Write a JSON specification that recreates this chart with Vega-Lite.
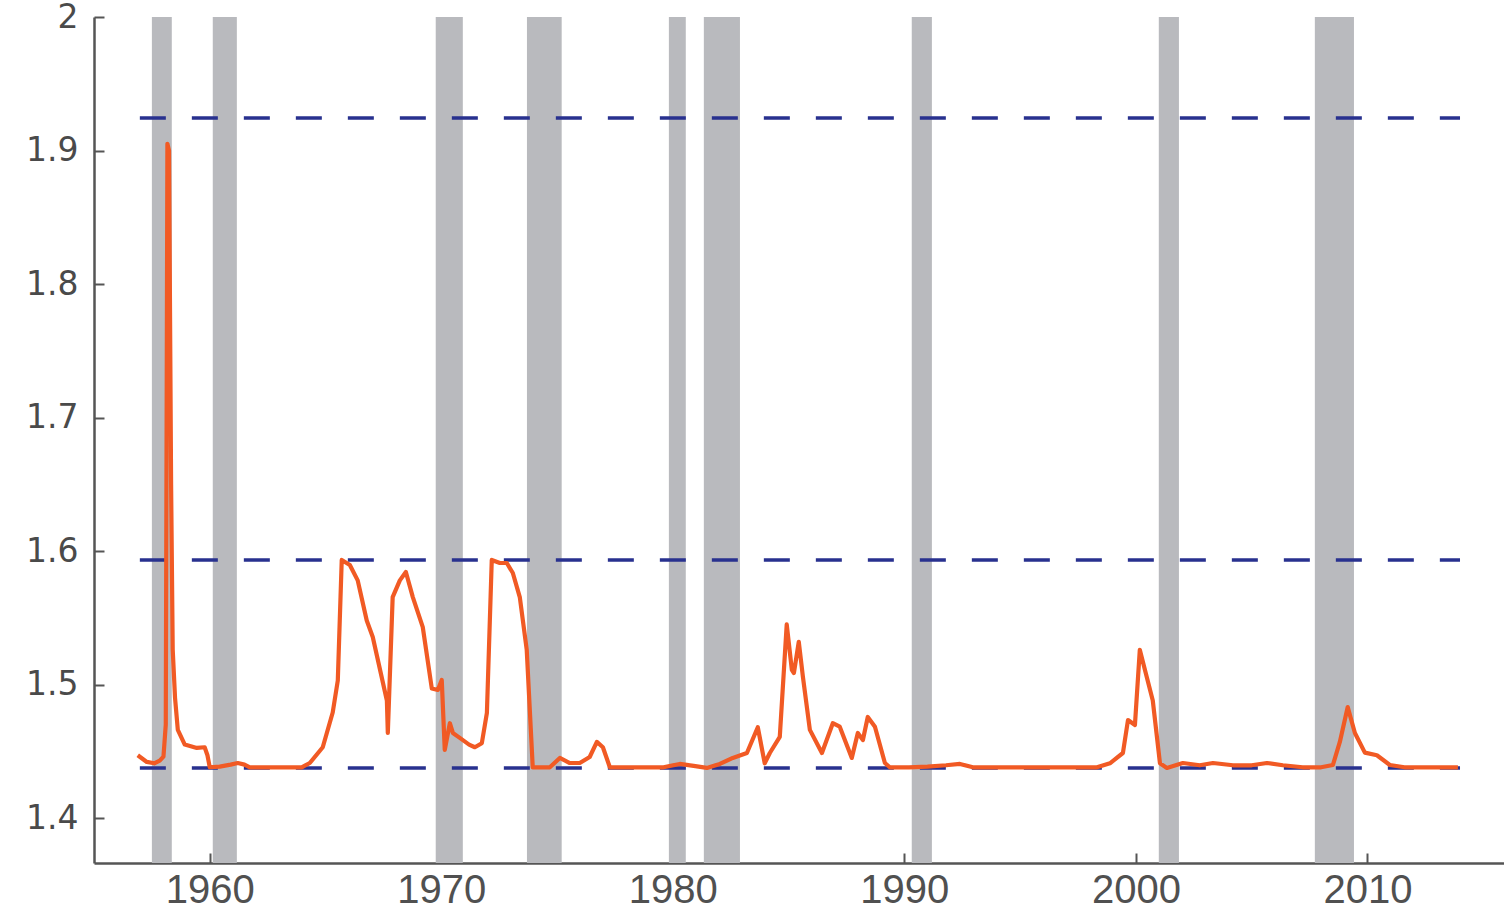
{
  "$schema": "https://vega.github.io/schema/vega-lite/v6.json",
  "width": 1410,
  "height": 846,
  "autosize": "none",
  "padding": {"left": 94, "top": 17, "right": 0, "bottom": 49},
  "background": "white",
  "config": {"view": {"stroke": null}},
  "datasets": {
    "recessions": [
      {"start": 1957.5, "end": 1958.36},
      {"start": 1960.13, "end": 1961.17},
      {"start": 1969.76, "end": 1970.93},
      {"start": 1973.7, "end": 1975.2},
      {"start": 1979.83, "end": 1980.56},
      {"start": 1981.34, "end": 1982.9},
      {"start": 1990.32, "end": 1991.19},
      {"start": 2000.99, "end": 2001.86},
      {"start": 2007.73, "end": 2009.42}
    ],
    "thresholds": [
      {"from": 1956.98, "to": 2014.0, "level": 1.9243},
      {"from": 1956.98, "to": 2014.0, "level": 1.5933},
      {"from": 1956.98, "to": 2014.0, "level": 1.4375}
    ],
    "series": [
      {"year": 1956.89, "value": 1.447},
      {"year": 1957.28, "value": 1.442},
      {"year": 1957.6, "value": 1.441},
      {"year": 1957.84, "value": 1.443},
      {"year": 1958.0, "value": 1.446},
      {"year": 1958.1, "value": 1.47},
      {"year": 1958.17, "value": 1.905},
      {"year": 1958.24, "value": 1.9},
      {"year": 1958.33, "value": 1.65},
      {"year": 1958.4, "value": 1.526},
      {"year": 1958.5, "value": 1.49},
      {"year": 1958.62, "value": 1.466},
      {"year": 1958.92, "value": 1.455},
      {"year": 1959.44, "value": 1.4525},
      {"year": 1959.78, "value": 1.453},
      {"year": 1959.9, "value": 1.447},
      {"year": 1960.0, "value": 1.438},
      {"year": 1960.43, "value": 1.4385},
      {"year": 1960.9, "value": 1.44},
      {"year": 1961.21, "value": 1.4412},
      {"year": 1961.5, "value": 1.44},
      {"year": 1961.73, "value": 1.438},
      {"year": 1962.5, "value": 1.438},
      {"year": 1963.3, "value": 1.438},
      {"year": 1963.97, "value": 1.438},
      {"year": 1964.32, "value": 1.4412},
      {"year": 1964.88, "value": 1.453},
      {"year": 1965.31, "value": 1.479},
      {"year": 1965.53, "value": 1.503},
      {"year": 1965.7, "value": 1.5933},
      {"year": 1966.05, "value": 1.5895},
      {"year": 1966.39, "value": 1.578},
      {"year": 1966.78, "value": 1.548},
      {"year": 1967.04, "value": 1.5356},
      {"year": 1967.65, "value": 1.488},
      {"year": 1967.69, "value": 1.4637},
      {"year": 1967.9, "value": 1.5655},
      {"year": 1968.21, "value": 1.578},
      {"year": 1968.47, "value": 1.5843},
      {"year": 1968.77, "value": 1.5655},
      {"year": 1969.2, "value": 1.543},
      {"year": 1969.59, "value": 1.497},
      {"year": 1969.85, "value": 1.4959},
      {"year": 1970.02, "value": 1.5034},
      {"year": 1970.15, "value": 1.451},
      {"year": 1970.37, "value": 1.471},
      {"year": 1970.5, "value": 1.4637},
      {"year": 1970.8, "value": 1.46},
      {"year": 1971.2, "value": 1.455},
      {"year": 1971.45, "value": 1.453},
      {"year": 1971.75, "value": 1.456},
      {"year": 1971.97, "value": 1.4787},
      {"year": 1972.18, "value": 1.5933},
      {"year": 1972.53, "value": 1.591},
      {"year": 1972.83, "value": 1.591},
      {"year": 1973.09, "value": 1.5835},
      {"year": 1973.39, "value": 1.5655},
      {"year": 1973.69, "value": 1.526},
      {"year": 1973.95, "value": 1.438},
      {"year": 1974.69, "value": 1.438},
      {"year": 1975.12, "value": 1.445},
      {"year": 1975.55, "value": 1.4412},
      {"year": 1975.98, "value": 1.4412},
      {"year": 1976.41, "value": 1.4457},
      {"year": 1976.72, "value": 1.457},
      {"year": 1976.98, "value": 1.453},
      {"year": 1977.28, "value": 1.438},
      {"year": 1978.0, "value": 1.438},
      {"year": 1979.0, "value": 1.438},
      {"year": 1979.6, "value": 1.438},
      {"year": 1980.3, "value": 1.4405},
      {"year": 1980.9, "value": 1.439},
      {"year": 1981.47, "value": 1.4375},
      {"year": 1982.03, "value": 1.4405},
      {"year": 1982.59, "value": 1.445},
      {"year": 1983.2, "value": 1.4487},
      {"year": 1983.67, "value": 1.468},
      {"year": 1983.97, "value": 1.441},
      {"year": 1984.19, "value": 1.4487},
      {"year": 1984.62, "value": 1.4607},
      {"year": 1984.92, "value": 1.545},
      {"year": 1985.14, "value": 1.511},
      {"year": 1985.23, "value": 1.5086},
      {"year": 1985.44, "value": 1.532},
      {"year": 1985.62, "value": 1.5056},
      {"year": 1985.92, "value": 1.466},
      {"year": 1986.44, "value": 1.4487},
      {"year": 1986.91, "value": 1.471},
      {"year": 1987.21, "value": 1.4684},
      {"year": 1987.73, "value": 1.445},
      {"year": 1987.99, "value": 1.4637},
      {"year": 1988.21, "value": 1.4584},
      {"year": 1988.42, "value": 1.4757},
      {"year": 1988.73, "value": 1.4684},
      {"year": 1989.16, "value": 1.4412},
      {"year": 1989.37, "value": 1.438},
      {"year": 1990.2, "value": 1.438},
      {"year": 1991.0, "value": 1.4385},
      {"year": 1991.8, "value": 1.4395},
      {"year": 1992.4, "value": 1.4405},
      {"year": 1992.96, "value": 1.438},
      {"year": 1993.8, "value": 1.438},
      {"year": 1994.8, "value": 1.438},
      {"year": 1995.8, "value": 1.438},
      {"year": 1996.8, "value": 1.438},
      {"year": 1997.6, "value": 1.438},
      {"year": 1998.32, "value": 1.438},
      {"year": 1998.88, "value": 1.441},
      {"year": 1999.44, "value": 1.4487},
      {"year": 1999.66, "value": 1.4734},
      {"year": 1999.96, "value": 1.4697},
      {"year": 2000.17, "value": 1.526},
      {"year": 2000.39, "value": 1.511},
      {"year": 2000.73, "value": 1.488},
      {"year": 2001.04, "value": 1.441},
      {"year": 2001.34, "value": 1.4375},
      {"year": 2002.03, "value": 1.4412},
      {"year": 2002.76, "value": 1.4395},
      {"year": 2003.33, "value": 1.4412},
      {"year": 2004.19, "value": 1.4395},
      {"year": 2005.0, "value": 1.4395},
      {"year": 2005.66, "value": 1.4412},
      {"year": 2006.35, "value": 1.4395},
      {"year": 2007.2, "value": 1.438},
      {"year": 2008.0, "value": 1.438},
      {"year": 2008.51, "value": 1.4397},
      {"year": 2008.81, "value": 1.457},
      {"year": 2009.15, "value": 1.4831},
      {"year": 2009.46, "value": 1.4637},
      {"year": 2009.89, "value": 1.449},
      {"year": 2010.41, "value": 1.447},
      {"year": 2010.97, "value": 1.4397},
      {"year": 2011.6, "value": 1.438},
      {"year": 2012.14, "value": 1.438},
      {"year": 2013.0, "value": 1.438},
      {"year": 2013.91, "value": 1.438}
    ]
  },
  "layer": [
    {
      "data": {"name": "recessions"},
      "mark": {"type": "rect", "color": "#b9babe", "opacity": 1},
      "encoding": {
        "x": {
          "field": "start", "type": "quantitative",
          "scale": {"domain": [1955.0, 2015.9], "nice": false, "zero": false},
          "axis": {
            "title": null,
            "values": [1960, 1970, 1980, 1990, 2000, 2010],
            "format": "d",
            "domainColor": "#555555", "domainWidth": 2.5,
            "tickColor": "#555555", "tickWidth": 2, "tickSize": -10,
            "labelFont": "Liberation Sans", "labelFontSize": 40, "labelColor": "#505050",
            "labelPadding": 17, "grid": false, "labelFlush": false
          }
        },
        "x2": {"field": "end"}
      }
    },
    {
      "data": {"name": "thresholds"},
      "mark": {"type": "rule", "color": "#28318f", "strokeWidth": 3.5, "strokeDash": [26, 26]},
      "encoding": {
        "x": {"field": "from", "type": "quantitative"},
        "x2": {"field": "to"},
        "y": {"field": "level", "type": "quantitative"}
      }
    },
    {
      "data": {"name": "series"},
      "mark": {"type": "line", "color": "#f15a24", "strokeWidth": 4.2, "strokeJoin": "round"},
      "encoding": {
        "x": {"field": "year", "type": "quantitative"},
        "y": {
          "field": "value", "type": "quantitative",
          "scale": {"domain": [1.3663, 2.0], "nice": false, "zero": false},
          "axis": {
            "title": null,
            "values": [1.4, 1.5, 1.6, 1.7, 1.8, 1.9, 2],
            "format": "~g",
            "domainColor": "#555555", "domainWidth": 2.5,
            "tickColor": "#555555", "tickWidth": 2, "tickSize": -10,
            "labelFont": "DejaVu Sans", "labelFontSize": 33, "labelColor": "#4a4a4a",
            "labelPadding": 26, "grid": false, "labelFlush": false
          }
        }
      }
    }
  ]
}
